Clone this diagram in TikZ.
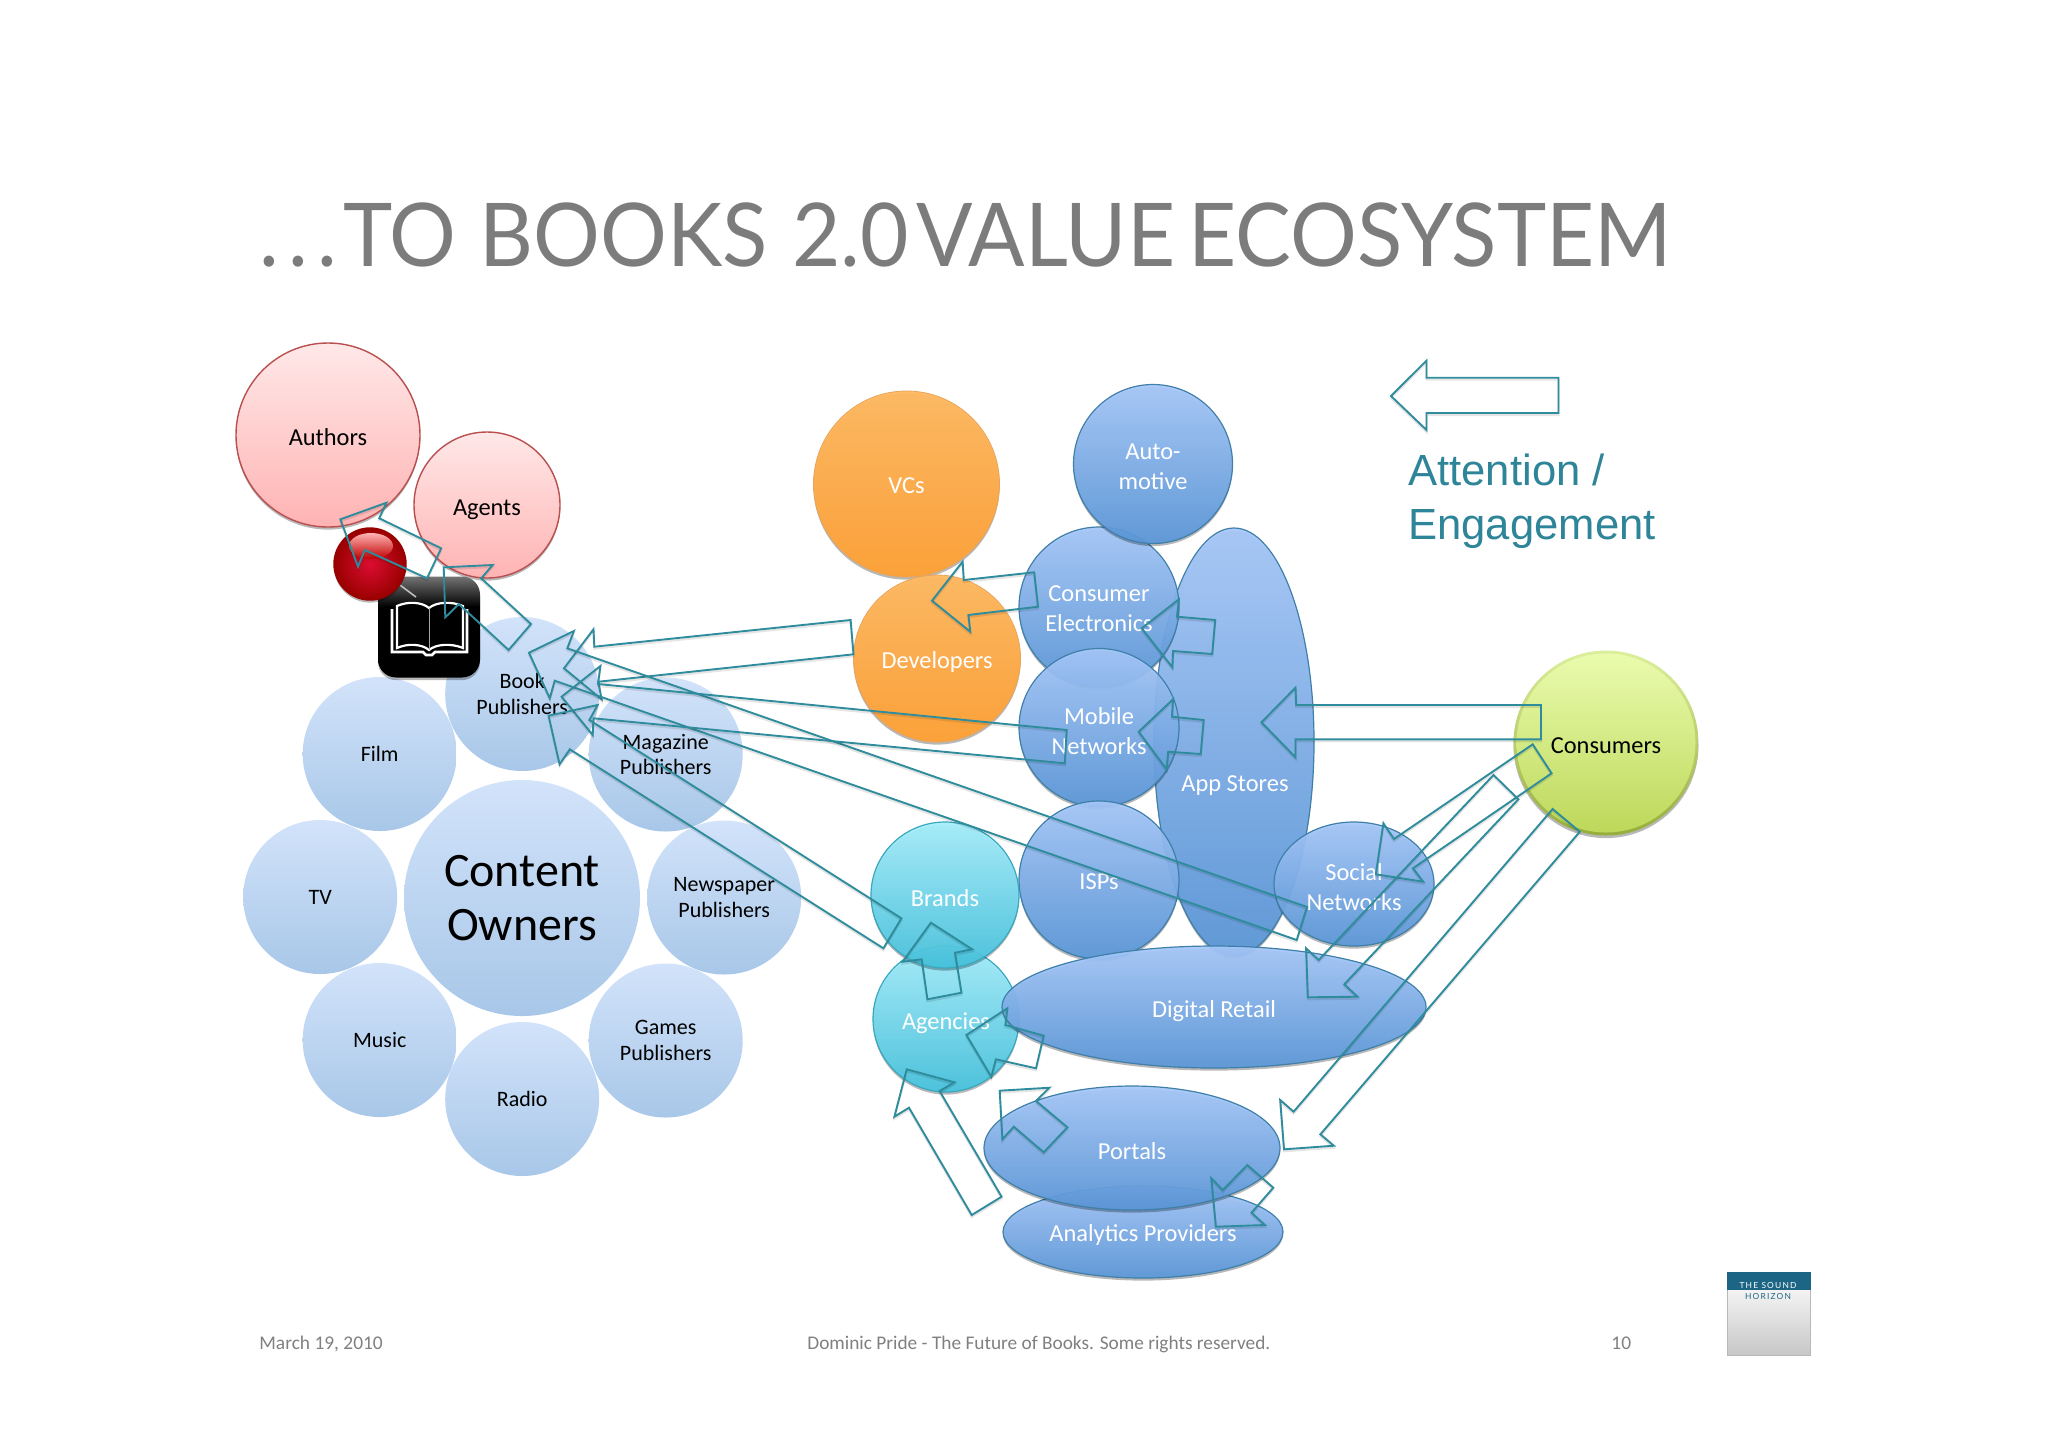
\documentclass[tikz,border=0pt]{standalone}
\usepackage{fontspec}
\setmainfont{Carlito}
\newfontfamily\titlefont{Lato}
\newfontfamily\legendfont{Liberation Sans}
\newfontfamily\logofont[LetterSpace=14]{Lato}
\usetikzlibrary{shapes.geometric,shadows}
\definecolor{teal1}{HTML}{2F8C9C}
\definecolor{legendteal}{HTML}{2E8498}
\definecolor{titlegray}{HTML}{7C7C7C}
\definecolor{footgray}{HTML}{808080}
\definecolor{ringtop}{HTML}{D2E3FA}
\definecolor{ringbot}{HTML}{A8C7E8}
\definecolor{bluetop}{HTML}{A6C8FA}
\definecolor{bluebot}{HTML}{5A97D9}
\definecolor{blueedge}{HTML}{3F7FA8}
\definecolor{cyantop}{HTML}{A6EFFD}
\definecolor{cyanbot}{HTML}{45C3DE}
\definecolor{cyanedge}{HTML}{3AA7BD}
\definecolor{orangetop}{HTML}{FFB85F}
\definecolor{orangebot}{HTML}{FFA033}
\definecolor{orangeedge}{HTML}{E8A45A}
\definecolor{lime1}{HTML}{EAFBAE}
\definecolor{lime2}{HTML}{BDD85A}
\definecolor{limerim1}{HTML}{DCEF9C}
\definecolor{limerim2}{HTML}{96AD3C}
\definecolor{logoblue}{HTML}{1D6585}
\definecolor{pinktop}{HTML}{FFE8E8}
\definecolor{pinkbot}{HTML}{FFB3B3}
\definecolor{pinkedge}{HTML}{B94F4F}
\pgfdeclareverticalshading{iconshade}{100bp}{color(0bp)=(black); color(25bp)=(black); color(60bp)=(black); color(75bp)=(black!55); color(100bp)=(black!55)}
\tikzset{
  base/.style={ellipse,inner sep=0pt,align=center,font=\fontsize{12.2}{14.6}\selectfont},
  softshadow/.style={drop shadow={shadow xshift=0pt,shadow yshift=-1.3pt,opacity=.28,fill=black}},
  wl/.style 2 args={label={[text=white,text opacity=1,inner sep=0pt,align=center,font=\fontsize{12.2}{15}\selectfont,yshift=-#1pt]center:{#2}}},
  bl/.style 2 args={label={[text=black,text opacity=1,inner sep=0pt,align=center,font=\fontsize{12.2}{15}\selectfont,yshift=-#1pt]center:{#2}}},
  pinknode/.style={base,draw=pinkedge,line width=.7pt,top color=pinktop,bottom color=pinkbot,softshadow},
  ringnode/.style={base,text=black,minimum width=77pt,minimum height=77pt,top color=ringtop,bottom color=ringbot,font=\fontsize{11}{12.6}\selectfont},
  bluenode/.style={base,draw=blueedge,line width=.6pt,top color=bluetop,bottom color=bluebot,fill opacity=.93,softshadow},
  cyannode/.style={base,draw=cyanedge,line width=.6pt,top color=cyantop,bottom color=cyanbot,fill opacity=.93,softshadow},
  orangenode/.style={base,draw=orangeedge,line width=.4pt,top color=orangetop,bottom color=orangebot,fill opacity=.95,softshadow},
  wlabel/.style={text=white,inner sep=0pt,align=center,font=\fontsize{12.2}{14.6}\selectfont},
  footlabel/.style={text=footgray,inner sep=0pt,anchor=base west},
  flowarrow/.style={draw=teal1,line width=.95pt,line join=miter,miter limit=8,fill=none,
    preaction={draw=black,draw opacity=.1,line width=1pt,transform canvas={yshift=-1pt}}},
}
\begin{document}
\begin{tikzpicture}[x=.5pt,y=-.5pt]
\useasboundingbox (0,0) rectangle (2048,1447);
\fill[white] (0,0) rectangle (2048,1447);

% title
\node[anchor=base west,inner sep=0pt,text=titlegray] (title) at (259,266)
  {\resizebox{706pt}{\height}{\titlefont\fontsize{44}{48}\selectfont .\kern5pt.\kern5pt.\kern3pt TO\kern12pt BOOKS\kern13pt 2.0\kern4pt VALUE\kern7pt ECOSYSTEM}};

% content-owner ring
\node[ringnode] (film) at (379.7,754) {Film};
\node[ringnode] (mag) at (665.7,754.5) {Magazine\\Publishers};
\node[ringnode] (tv) at (320.2,897) {TV};
\node[ringnode] (news) at (724.2,897.5) {Newspaper\\Publishers};
\node[ringnode] (music) at (379.7,1040) {Music};
\node[ringnode] (games) at (665.7,1040.5) {Games\\Publishers};
\node[ringnode] (radio) at (522.2,1099) {Radio};
\node[ringnode] (book) at (522.2,694) {Book\\Publishers};
\node[ringnode,minimum width=118pt,minimum height=118pt,font=\fontsize{24}{27.4}\selectfont] (owners) at (522,898) {Content\\Owners};

% authors, agents
\node[pinknode,minimum width=92pt,minimum height=92pt,bl={1.3}{Authors}] (authors) at (328,435) {};
\node[pinknode,minimum width=73pt,minimum height=73pt,bl={2.6}{Agents}] (agents) at (487,505) {};

% book icon
\node[rounded corners=9pt,minimum width=51pt,minimum height=50.5pt,inner sep=0pt,shading=iconshade,softshadow] (icon) at (429,627) {};
\draw[white!75!black,line width=.8pt] (400,585) -- (416,597);
\draw[white,line width=1.3pt,line join=miter] (392,609) -- (392,652) -- (423,652) -- (426,655) -- (432,655) -- (435,652) -- (467,652) -- (467,609);
\draw[white,line width=1.1pt,fill=black] (397,606) .. controls (408,601) and (422,602) .. (429,608) .. controls (436,602) and (451,601) .. (463,606) -- (463,648) .. controls (451,643) and (436,644) .. (429,650) .. controls (422,644) and (408,643) .. (397,648) -- cycle;
\draw[black!35,line width=.4pt] (429,608) -- (429,650);

% red ball
\node[ellipse,minimum width=36pt,minimum height=36pt,inner sep=0pt,draw=red!60!black,line width=.7pt,inner color=red!85!blue!95,outer color=red!60!black,softshadow] (ball) at (370,564) {};
\node[ellipse,minimum width=22pt,minimum height=13pt,inner sep=0pt,top color=red!30!white,bottom color=red!75!black] (shine) at (371,546) {};

% orange
\node[orangenode,minimum width=93pt,minimum height=93pt,wl={1}{VCs}] (vcs) at (906.5,484) {};
\node[orangenode,minimum width=83.5pt,minimum height=83.5pt,wl={1.8}{Developers}] (dev) at (937,658.5) {};

% blue group
\node[bluenode,minimum width=80pt,minimum height=214pt] (apps) at (1234,742) {};
\node[wlabel] (appslabel) at (1235,786) {App Stores};
\node[bluenode,minimum width=80pt,minimum height=80pt,wl={.65}{Consumer\\Electronics}] (ce) at (1099,607) {};
\node[bluenode,minimum width=80pt,minimum height=79pt,wl={1.6}{Mobile\\Networks}] (mobile) at (1099,727.5) {};
\node[bluenode,minimum width=80pt,minimum height=79pt,wl={.65}{ISPs}] (isps) at (1099,880) {};
\node[bluenode,minimum width=79.5pt,minimum height=79.5pt,wl={1.3}{Auto-\\motive}] (auto) at (1153,464) {};
\node[bluenode,minimum width=80pt,minimum height=62pt,wl={1.3}{Social\\Networks}] (social) at (1354,884) {};

% cyan
\node[cyannode,minimum width=73pt,minimum height=73pt,wl={2}{Agencies}] (agencies) at (946,1019) {};
\node[cyannode,minimum width=74pt,minimum height=73pt,wl={1.3}{Brands}] (brands) at (945,895) {};

% retail group
\node[bluenode,minimum width=212pt,minimum height=61pt,wl={2}{Digital Retail}] (retail) at (1214,1007) {};
\node[bluenode,minimum width=140pt,minimum height=46pt,wl={1.3}{Analytics Providers}] (analytics) at (1143,1232) {};
\node[bluenode,minimum width=148pt,minimum height=62pt,wl={1.3}{Portals}] (portals) at (1132,1148) {};

% consumers
\node[ellipse,minimum width=92.5pt,minimum height=92.5pt,inner sep=0pt,top color=limerim1,bottom color=limerim2,softshadow] (consumersrim) at (1606,743) {};
\node[ellipse,inner sep=0pt,minimum width=89.5pt,minimum height=89.5pt,top color=lime1,bottom color=lime2,bl={1.3}{Consumers}] (consumers) at (1606,743) {};

% block arrows, each outlined as its own polygon
% Authors <- Agents side
\draw[flowarrow] (340.4,519.3) -- (386.5,502.7) -- (379.2,518.3) -- (441.2,548.3) -- (427,578.3) -- (364.9,550) -- (358,566.7) -- cycle;
% Agents <- Book Publishers
\draw[flowarrow] (443.7,567.3) -- (492.7,565) -- (481.2,578.3) -- (531,624) -- (508.6,650) -- (458.8,604) -- (445.3,617.3) -- cycle;
% Book Publishers <- Developers
\draw[flowarrow] (850.6,620) -- (594.3,646.7) -- (593.5,629.3) -- (564,668.3) -- (601.6,699.3) -- (598.4,681.7) -- (853.5,654.3) -- cycle;
% Book Publishers <- Social Networks
\draw[flowarrow] (529,652.7) -- (573.9,631) -- (567.3,648.3) -- (1307,907) -- (1296.7,940) -- (554.7,680.7) -- (549.8,698.3) -- cycle;
% Book Publishers <- Mobile Networks
\draw[flowarrow] (561.6,696.7) -- (600.4,666) -- (598,684) -- (1066.7,730) -- (1064.8,763.3) -- (593.5,718.3) -- (592.7,735) -- cycle;
% Book Publishers <- Brands
\draw[flowarrow] (548.6,715.7) -- (597.6,705) -- (589.4,720) -- (901.4,918.3) -- (883.4,948.3) -- (569.8,749.3) -- (559.6,764.3) -- cycle;
% Developers <- Consumer Electronics
\draw[flowarrow] (932,600.7) -- (962.6,561.7) -- (963.8,580) -- (1034.2,572.3) -- (1038,606.7) -- (968.4,615) -- (970.3,631.7) -- cycle;
% Consumer Electronics <- App Stores
\draw[flowarrow] (1141.7,628.3) -- (1178.9,599.3) -- (1177,616.7) -- (1215.2,620) -- (1212.2,654) -- (1173,651) -- (1172.4,667.3) -- cycle;
% Mobile Networks <- App Stores
\draw[flowarrow] (1138.7,731.7) -- (1173,699.3) -- (1172,716.7) -- (1203.7,720) -- (1200.7,754) -- (1168.2,751.7) -- (1166.6,769.3) -- cycle;
% App Stores <- Consumers
\draw[flowarrow] (1261.4,722.3) -- (1295.5,687.7) -- (1296.2,705) -- (1541,705) -- (1541,739.3) -- (1295.5,739.3) -- (1295.5,757.3) -- cycle;
% Social Networks <- Consumers
\draw[flowarrow] (1532.7,744.3) -- (1551.6,773.3) -- (1412.9,868.3) -- (1423.2,881.7) -- (1375.8,874.3) -- (1383.4,823.3) -- (1394,839) -- cycle;
% Digital Retail <- Consumers
\draw[flowarrow] (1493.5,775) -- (1518.4,799.3) -- (1344.3,984.3) -- (1357.5,996.7) -- (1307.8,997.3) -- (1306.1,948.3) -- (1318.7,960) -- cycle;
% Portals <- Consumers
\draw[flowarrow] (1552.6,809) -- (1579.8,831.7) -- (1320.4,1134.3) -- (1333.8,1145.7) -- (1284,1149.3) -- (1280.2,1100) -- (1293.6,1111.7) -- cycle;
% Agencies <- Digital Retail
\draw[flowarrow] (966.4,1035) -- (1007.3,1008.3) -- (1005.4,1025) -- (1043.7,1035.7) -- (1036,1068.3) -- (995.9,1059.3) -- (991.3,1076.7) -- cycle;
% Brands <- Agencies
\draw[flowarrow] (930.9,922.7) -- (972.2,949.3) -- (955,952.7) -- (961.5,992.7) -- (927.4,999.3) -- (921.7,959.3) -- (902.6,961.7) -- cycle;
% Agencies <- Analytics
\draw[flowarrow] (906.7,1069.3) -- (954.5,1082.3) -- (939.6,1091) -- (1001.6,1196.7) -- (971.7,1215) -- (909,1107.7) -- (894.4,1116.7) -- cycle;
% Agencies <- Portals
\draw[flowarrow] (999.7,1090.7) -- (1049.4,1087.7) -- (1036,1101) -- (1067.4,1127.3) -- (1043.7,1152.3) -- (1013.8,1126.7) -- (1002.4,1139.3) -- cycle;
% Portals <- Analytics
\draw[flowarrow] (1215.9,1226.7) -- (1211.3,1178.3) -- (1222.8,1190) -- (1247.3,1165) -- (1273.3,1187.7) -- (1251.5,1212.7) -- (1264.9,1225) -- cycle;
% legend arrow
\draw[flowarrow] (1391,396) -- (1426.5,360.6) -- (1426.5,377.7) -- (1558.5,377.7) -- (1558.5,413) -- (1426.5,413) -- (1426.5,430) -- cycle;

% legend text
\node[anchor=base west,inner sep=0pt,text=legendteal,font=\legendfont\fontsize{21.8}{27}\selectfont] (legend) at (1408,485.7) {Attention /};
\node[anchor=base west,inner sep=0pt,text=legendteal,font=\legendfont\fontsize{21.8}{27}\selectfont] (legend2) at (1408,539.7) {Engagement};

% footer
\node[footlabel,font=\fontsize{9.7}{12}\selectfont] (date) at (259,1349.5) {March 19, 2010};
\node[footlabel,font=\fontsize{9.66}{12}\selectfont] (rights) at (807,1349.5) {Dominic Pride - The Future of Books. Some rights reserved.};
\node[footlabel,font=\fontsize{9.7}{12}\selectfont] (page) at (1611,1349.5) {10};

% logo
\node[anchor=north west,minimum width=41.6pt,minimum height=41.6pt,inner sep=0pt,top color=white,bottom color=black!22,draw=black!28,line width=.3pt] (logo) at (1727,1272) {};
\node[anchor=north west,minimum width=41.6pt,minimum height=9pt,inner sep=0pt,fill=logoblue] (logoband) at (1727,1272) {};
\node[inner sep=0pt,text=white,font=\logofont\fontsize{4.2}{5}\selectfont] (logoa) at (1768,1285) {THE SOUND};
\node[inner sep=0pt,text=logoblue,font=\logofont\fontsize{4.2}{5}\selectfont] (logob) at (1768,1296) {HORIZON};
\end{tikzpicture}
\end{document}
